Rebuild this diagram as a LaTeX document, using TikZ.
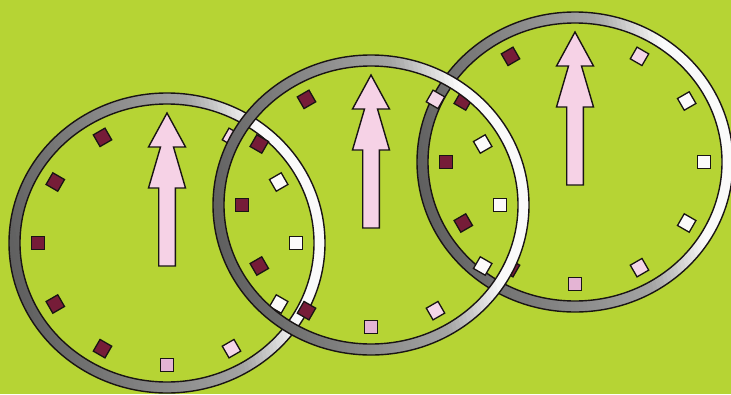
\documentclass[tikz,border=0pt]{standalone}
\definecolor{bg}{RGB}{182,212,52}
\definecolor{maroon}{RGB}{118,28,56}
\definecolor{pinkm}{RGB}{228,180,212}
\definecolor{lpink}{RGB}{244,214,232}
\definecolor{whitem}{RGB}{252,250,250}
\definecolor{arrowpink}{RGB}{246,210,230}
\definecolor{ringdark}{RGB}{95,95,95}
\definecolor{ringmid}{RGB}{165,165,165}
\definecolor{ringlight}{RGB}{250,250,250}
\definecolor{ink}{RGB}{25,20,20}
\tikzset{
  marker/.style={draw=ink, line width=1.3pt, minimum size=13.5pt, inner sep=0pt, outer sep=0pt, shape=rectangle},
  arrowshape/.style={fill=arrowpink, draw=ink, line width=1.4pt, line join=miter},
  ringedge/.style={draw=ink, line width=1.4pt},
}
\newcommand\drawclock[3]{%
  \begin{scope}[even odd rule]
    \clip (#1,#2) ellipse [x radius=158, y radius=150] (#1,#2) ellipse [x radius=147, y radius=139];
    \begin{scope}[shift={(#1,#2)}, rotate=12]
      \foreach \i in {0,...,84} {
        \pgfmathsetmacro\ta{-170+4*\i}
        \pgfmathsetmacro\tb{\ta+4.6}
        \pgfmathsetmacro\tm{\ta+2}
        \pgfmathtruncatemacro\pa{min(100,max(0,(\tm+160)/210*100))}
        \pgfmathtruncatemacro\pb{min(100,max(0,(\tm-50)/60*100))}
        \ifnum\pb>0 \colorlet{rc}{ringlight!\pb!ringmid}\else\colorlet{rc}{ringmid!\pa!ringdark}\fi
        \fill[rc] (\ta,-200) rectangle (\tb,200);
      }
    \end{scope}
  \end{scope}
  \draw[ringedge] (#1,#2) ellipse [x radius=158, y radius=150];
  \draw[ringedge] (#1,#2) ellipse [x radius=147, y radius=139];
  \foreach \h/\c in {1/lpink,2/whitem,3/whitem,4/whitem,5/lpink,6/pinkm,7/maroon,8/maroon,9/maroon,10/maroon,11/maroon} {
    \pgfmathsetmacro\ang{90-30*\h}
    \node[marker, fill=\c, rotate=\ang] (#3-\h) at ({#1+129*cos(\ang)},{#2-122*sin(\ang)}) {};
  }
  \begin{scope}[shift={(#1,#2)}]
    \draw[arrowshape] (0,-130) -- (18.5,-96) -- (6.5,-96) -- (18.5,-55) -- (8.3,-55) -- (8.3,23)
      -- (-8.3,23) -- (-8.3,-55) -- (-18.5,-55) -- (-6.5,-96) -- (-18.5,-96) -- cycle;
  \end{scope}
}
\begin{document}
\begin{tikzpicture}[x=1pt, y=-1pt]
  \useasboundingbox (0,0) rectangle (731,394);
  \fill[bg] (0,0) rectangle (731,394);
  \drawclock{167}{243}{L}
  \drawclock{575}{162}{R}
  \drawclock{371}{205}{M}
\end{tikzpicture}
\end{document}
